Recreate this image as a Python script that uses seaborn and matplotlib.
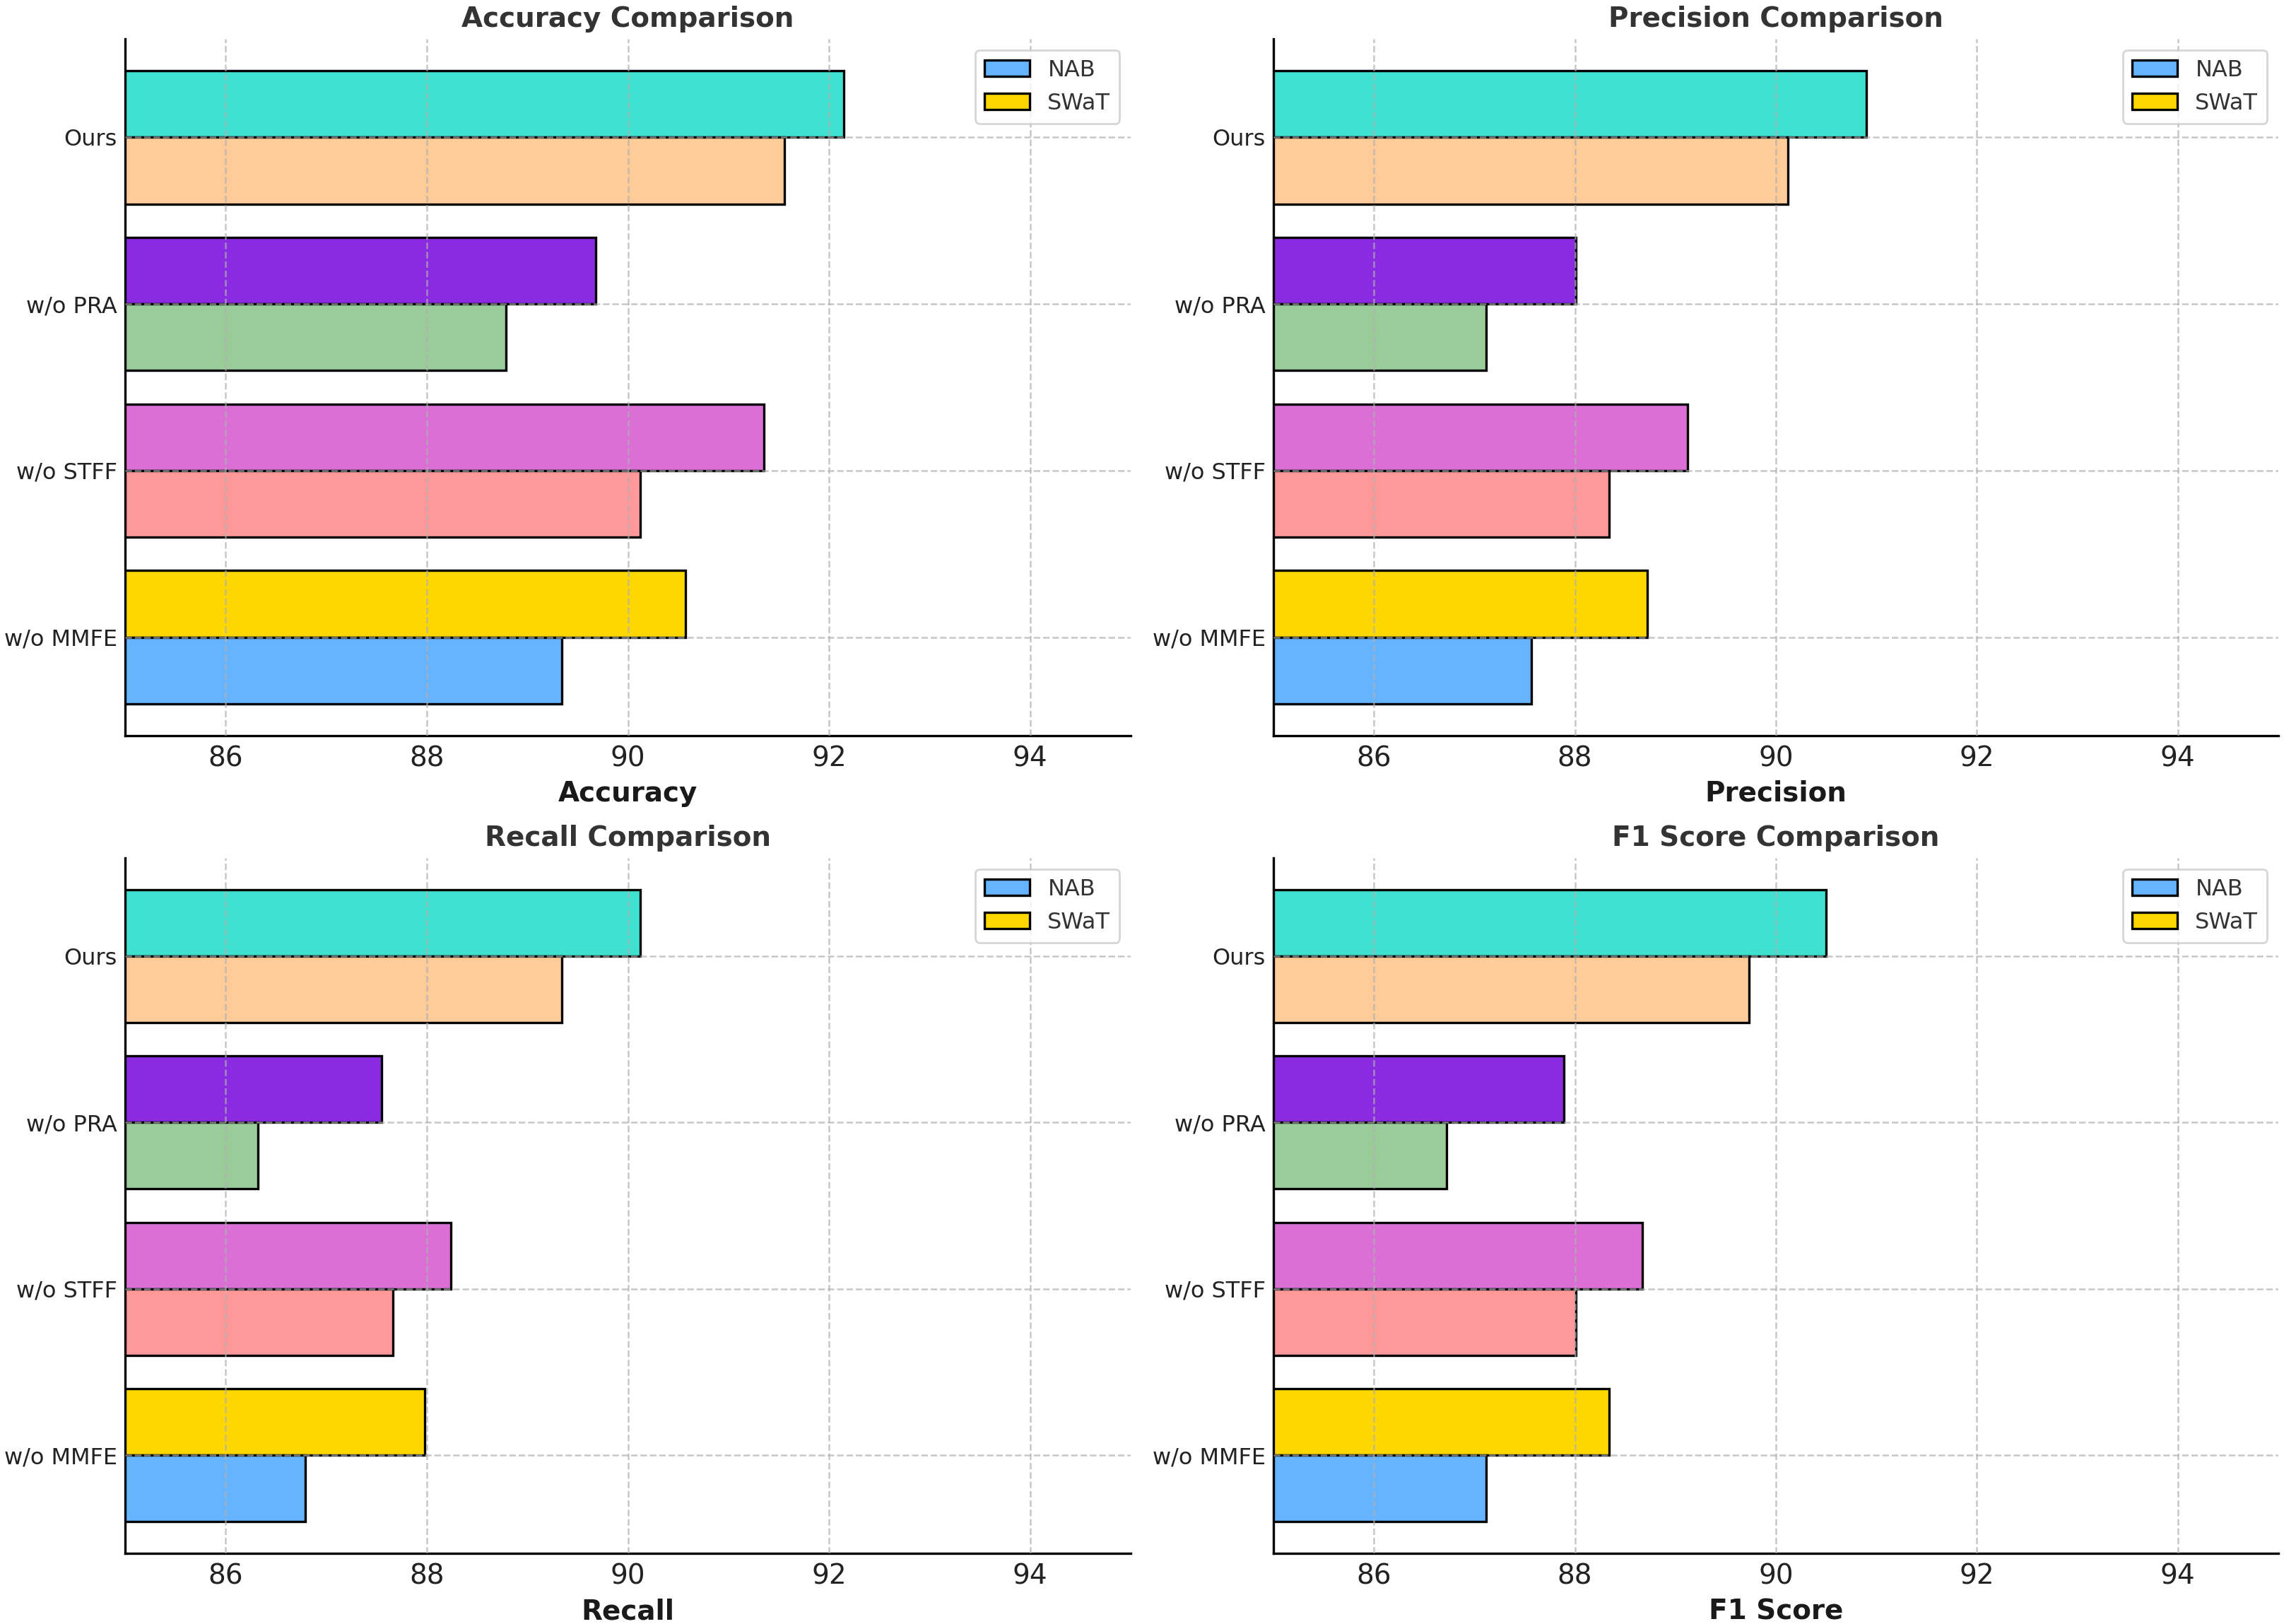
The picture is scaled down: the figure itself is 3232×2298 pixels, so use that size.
import numpy as np
import pandas as pd
import matplotlib
matplotlib.use("Agg")
import matplotlib.pyplot as plt
import seaborn as sns

# ---------------- data ----------------
models = ["Ours", "w/o PRA", "w/o STFF", "w/o MMFE"]   # top to bottom
datasets = ["NAB", "SWaT"]
metrics = ["Accuracy", "Precision", "Recall", "F1 Score"]

accuracy_nab = [91.56, 88.79, 90.12, 89.34]
accuracy_swat = [92.15, 89.68, 91.35, 90.57]
precision_nab = [90.12, 87.12, 88.34, 87.57]
precision_swat = [90.90, 88.01, 89.12, 88.72]
recall_nab = [89.34, 86.32, 87.66, 86.79]
recall_swat = [90.12, 87.55, 88.24, 87.98]
f1_nab = [89.73, 86.72, 88.01, 87.12]
f1_swat = [90.50, 87.89, 88.67, 88.34]

nab_colors = ["#ffcc99", "#99cc99", "#ff9999", "#66b3ff"]
swat_colors = ["#40e0d0", "#8a2be2", "#da70d6", "#ffd700"]

values = {
    "Accuracy": (accuracy_nab, accuracy_swat),
    "Precision": (precision_nab, precision_swat),
    "Recall": (recall_nab, recall_swat),
    "F1 Score": (f1_nab, f1_swat),
}

# ---------------- style ----------------
sns.set_theme(style="whitegrid")
plt.rcParams["font.family"] = ["DejaVu Sans"]

W, H = 3232, 2298
DPI = 200
fig = plt.figure(figsize=(W / DPI, H / DPI), dpi=DPI)

# axes rectangles in figure fraction (left, bottom, width, height)
rects = [
    (177 / W, (H - 1041) / H, (1600 - 177) / W, (1041 - 55) / H),
    (1802 / W, (H - 1041) / H, (3224 - 1802) / W, (1041 - 55) / H),
    (177 / W, (H - 2198) / H, (1600 - 177) / W, (2198 - 1214) / H),
    (1802 / W, (H - 2198) / H, (3224 - 1802) / W, (2198 - 1214) / H),
]

for rect, metric in zip(rects, metrics):
    ax = fig.add_axes(rect)
    nab, swat = values[metric]
    df = pd.DataFrame({
        "Model": models + models,
        "Dataset": ["NAB"] * len(models) + ["SWaT"] * len(models),
        "Score": nab + swat,
    })
    sns.barplot(data=df, x="Score", y="Model", hue="Dataset",
                order=models, hue_order=["SWaT", "NAB"], orient="h",
                errorbar=None, width=0.8, saturation=1,
                edgecolor="black", linewidth=1.2, legend=False, ax=ax)

    handles = {}
    for cont, ds in zip(ax.containers, ["SWaT", "NAB"]):
        cols = swat_colors if ds == "SWaT" else nab_colors
        for p in cont.patches:
            idx = int(round(p.get_y() + p.get_height() / 2))
            p.set_facecolor(cols[idx])
            p.set_edgecolor("black")
            p.set_linewidth(1.2)
            if idx == len(models) - 1:
                handles[ds] = p

    ax.set_xlim(85, 95)
    ax.set_ylim(3.59, -0.59)
    ax.set_xticks(np.arange(86, 95, 2))
    ax.set_axisbelow(False)
    ax.grid(True, linestyle="--", linewidth=0.9, color="#b0b0b0", alpha=0.7)

    for s in ["top", "right"]:
        ax.spines[s].set_visible(False)
    for s in ["left", "bottom"]:
        ax.spines[s].set_color("black")
        ax.spines[s].set_linewidth(1.2)

    ax.tick_params(axis="x", direction="in", length=4, width=1, color="black",
                   labelsize=14, labelcolor="#222222", pad=5)
    ax.tick_params(axis="y", direction="in", length=4, width=1, color="black",
                   labelsize=11.5, labelcolor="#222222", pad=4)

    ax.set_title(f"{metric} Comparison", fontsize=14, fontweight="bold",
                 color="#333333", pad=6)
    ax.set_xlabel(metric, fontsize=14, fontweight="bold", color="#1a1a1a")
    ax.set_ylabel("")

    leg = ax.legend([handles["NAB"], handles["SWaT"]], ["NAB", "SWaT"],
                    loc="upper right", fontsize=11.5, frameon=True,
                    fancybox=True, framealpha=0.8, edgecolor="#cccccc")
    for t in leg.get_texts():
        t.set_color("#333333")
    leg.get_frame().set_facecolor("white")

fig.savefig("out.png", dpi=DPI)
